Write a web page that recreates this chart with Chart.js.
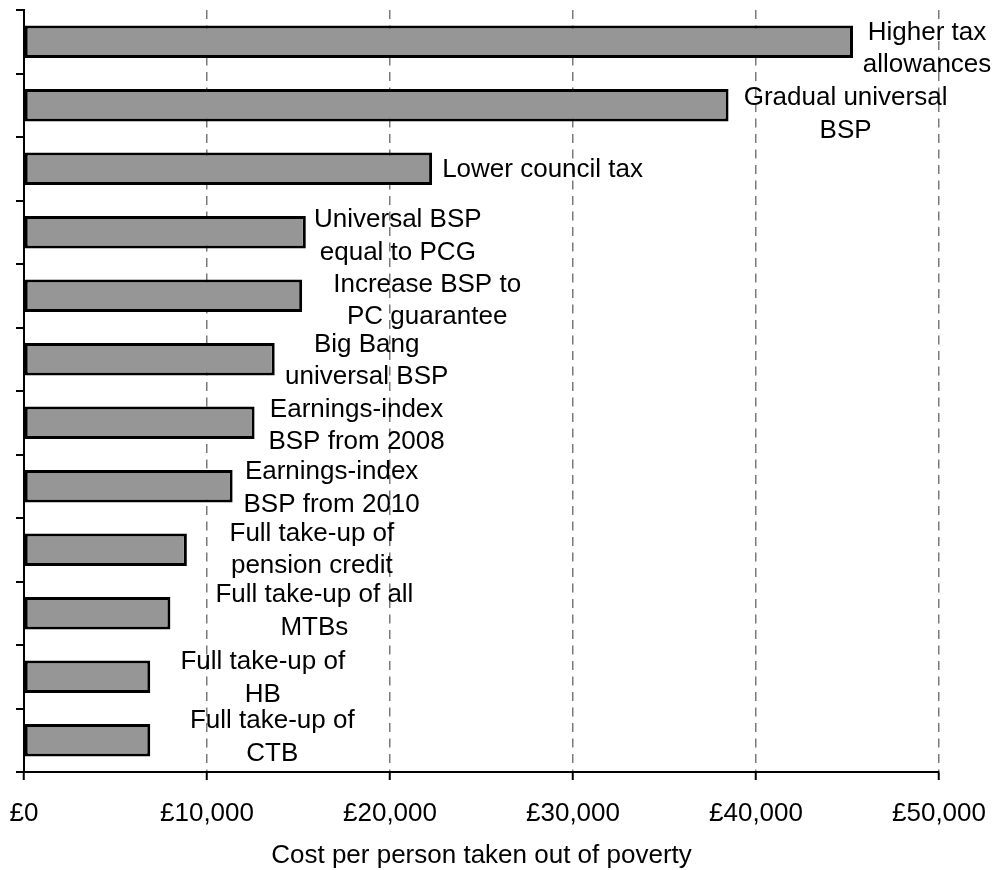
<!DOCTYPE html>
<html>
<head>
<meta charset="utf-8">
<script src="https://cdn.jsdelivr.net/npm/chart.js@4.4.1/dist/chart.umd.min.js"></script>
<style>
  html, body { margin: 0; padding: 0; background: #ffffff; }
  #wrap { width: 997px; height: 870px; }
</style>
</head>
<body>
<div id="wrap"><canvas id="c" width="997" height="870"></canvas></div>
<script>
// ---- data ----
const categories = [
  "Higher tax allowances",
  "Gradual universal BSP",
  "Lower council tax",
  "Universal BSP equal to PCG",
  "Increase BSP to PC guarantee",
  "Big Bang universal BSP",
  "Earnings-index BSP from 2008",
  "Earnings-index BSP from 2010",
  "Full take-up of pension credit",
  "Full take-up of all MTBs",
  "Full take-up of HB",
  "Full take-up of CTB"
];
const costPerPerson = [45300, 38500, 22300, 15400, 15200, 13700, 12600, 11400, 8900, 8000, 6900, 6900];
const labelLines = [
  ["Higher tax", "allowances"],
  ["Gradual universal", "BSP"],
  ["Lower council tax"],
  ["Universal BSP", "equal to PCG"],
  ["Increase BSP to", "PC guarantee"],
  ["Big Bang", "universal BSP"],
  ["Earnings-index", "BSP from 2008"],
  ["Earnings-index", "BSP from 2010"],
  ["Full take-up of", "pension credit"],
  ["Full take-up of all", "MTBs"],
  ["Full take-up of", "HB"],
  ["Full take-up of", "CTB"]
];
const xTicks = [0, 10000, 20000, 30000, 40000, 50000];
const xTitle = "Cost per person taken out of poverty";

// ---- label layout (offsets from bar end / bar centre, px) ----
const labelDx = [74, 117, 110.5, 92, 125, 92, 102, 99, 125, 144, 112.5, 122];
const labelDy = [-2, 0, 8, -5, -4, -7.5, -6, -7, -9, -11, -7.5, -12];
const LINE_GAP = 32.5;

const FONT = "'Liberation Sans', Arial, sans-serif";

const barLabels = {
  id: 'barLabels',
  afterDatasetsDraw(chart) {
    const ctx = chart.ctx;
    const meta = chart.getDatasetMeta(0);
    ctx.save();
    ctx.font = "26px " + FONT;
    ctx.fillStyle = "#000000";
    ctx.textAlign = "center";
    ctx.textBaseline = "alphabetic";
    meta.data.forEach((bar, i) => {
      const lines = labelLines[i];
      const cx = bar.x + labelDx[i];
      const y0 = bar.y + labelDy[i];
      lines.forEach((t, k) => ctx.fillText(t, cx, y0 + k * LINE_GAP));
    });
    ctx.restore();
  }
};

new Chart(document.getElementById('c'), {
  type: 'bar',
  data: {
    labels: categories,
    datasets: [{
      data: costPerPerson,
      backgroundColor: '#969696',
      borderColor: '#000000',
      borderWidth: 3,
      borderSkipped: false,
      barPercentage: 0.51,
      categoryPercentage: 1.0
    }]
  },
  options: {
    indexAxis: 'y',
    responsive: false,
    animation: false,
    events: [],
    layout: { autoPadding: false, padding: { top: 10, right: 58, left: 0, bottom: 0 } },
    plugins: { legend: { display: false }, tooltip: { enabled: false } },
    scales: {
      x: {
        type: 'linear',
        min: 0,
        max: 50000,
        afterBuildTicks: (s) => { s.ticks = xTicks.map(v => ({ value: v })); },
        afterFit: (s) => { s.height = 98; s.paddingLeft = 0; s.paddingRight = 0; },
        ticks: {
          color: '#000000',
          font: { family: FONT, size: 26 },
          padding: 18,
          maxRotation: 0,
          callback: (v) => '£' + Number(v).toLocaleString('en-GB')
        },
        grid: {
          color: '#7a7a7a',
          lineWidth: 1.5,
          drawTicks: true,
          tickLength: 8,
          tickColor: '#000000',
          tickWidth: 2,
          tickBorderDash: []
        },
        border: { display: true, color: '#000000', width: 2, dash: [9, 6.5] },
        title: {
          display: true,
          text: xTitle,
          color: '#000000',
          font: { family: FONT, size: 26, lineHeight: 1.1 },
          padding: { top: 0, bottom: 0 }
        }
      },
      y: {
        type: 'category',
        offset: true,
        afterFit: (s) => { s.width = 24; s.paddingTop = 0; s.paddingBottom = 0; },
        ticks: { display: false },
        grid: {
          offset: true,
          drawOnChartArea: false,
          drawTicks: true,
          tickLength: 8,
          tickColor: '#000000',
          tickWidth: 2,
          color: '#000000',
          lineWidth: 2
        },
        border: { display: true, color: '#000000', width: 2 }
      }
    }
  },
  plugins: [barLabels]
});
</script>
</body>
</html>
